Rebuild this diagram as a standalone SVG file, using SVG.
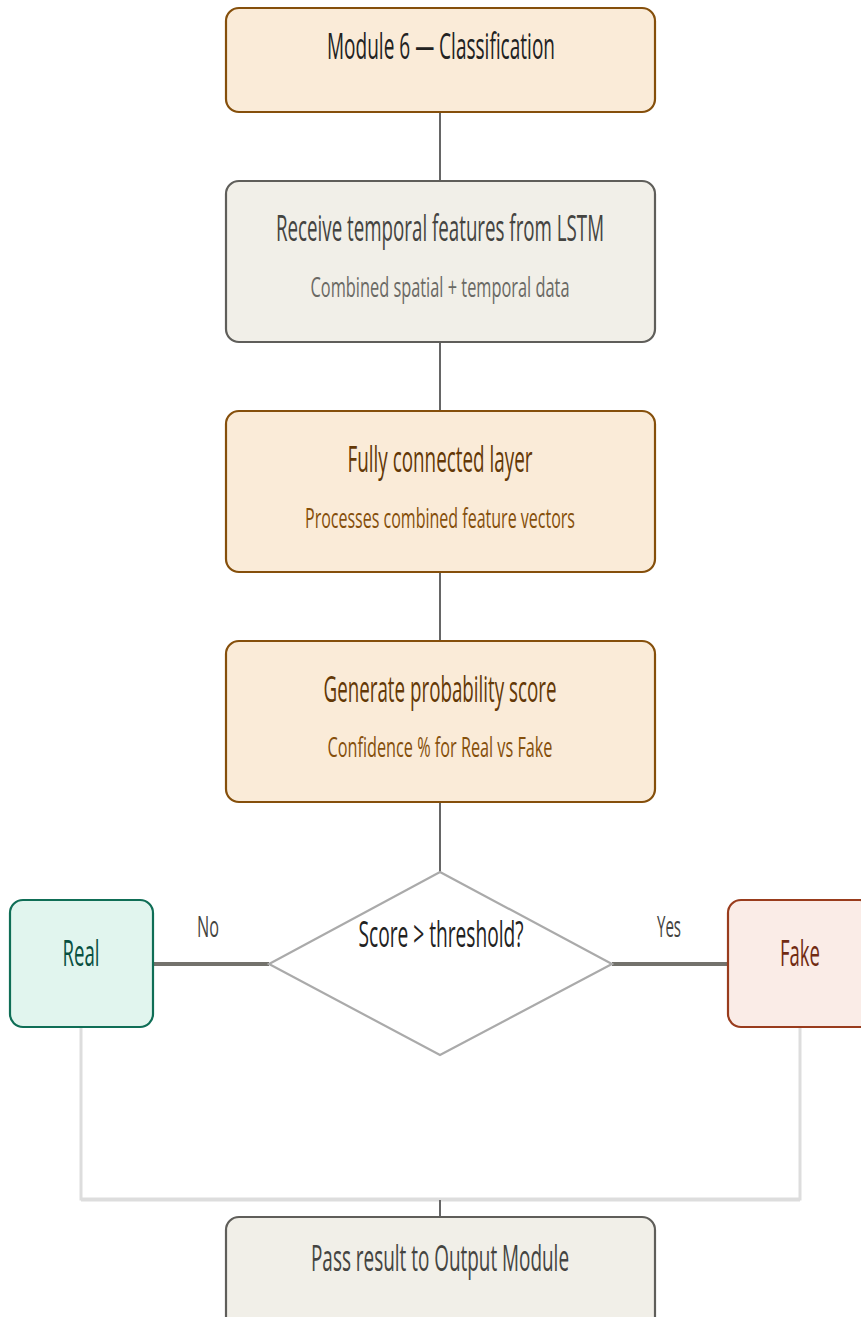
<svg xmlns="http://www.w3.org/2000/svg" width="861" height="1317" viewBox="0 0 861 1317">
  <defs>
    <style>
      text { font-family: "Open Sans", "Liberation Sans", sans-serif; text-anchor: middle; }
      .amber { fill: #faebd8; stroke: #854f0b; stroke-width: 2.2; }
      .gray { fill: #f1efe8; stroke: #5f5e5a; stroke-width: 2.2; }
      .green { fill: #e1f5ee; stroke: #0f6e56; stroke-width: 2.2; }
      .coral { fill: #faece7; stroke: #993c1d; stroke-width: 2.2; }
      .decision { fill: #ffffff; stroke: #aaaaaa; stroke-width: 2.2; }
      .t { font-size: 36px; }
      .s { font-size: 28px; }
      .dark { fill: #222222; }
      .g-t { fill: #444441; }
      .g-s { fill: #6a6964; }
      .a-t { fill: #633806; }
      .a-s { fill: #854f0b; }
      .edge { fill: none; stroke: #666666; stroke-width: 2; }
      .branch { fill: none; stroke: #73726c; stroke-width: 4; }
      .merge { fill: none; stroke: #dddddd; stroke-width: 3; }
      .lbl { font-size: 30px; fill: #444441; }
    </style>
  </defs>

  <!-- connectors -->
  <g id="connectors">
    <line class="edge" x1="440" y1="112" x2="440" y2="181"/>
    <line class="edge" x1="440" y1="342" x2="440" y2="411"/>
    <line class="edge" x1="440" y1="572" x2="440" y2="641"/>
    <line class="edge" x1="440" y1="802" x2="440" y2="872"/>
    <line class="branch" x1="153" y1="964" x2="269" y2="964"/>
    <line class="branch" x1="612" y1="964" x2="728" y2="964"/>
    <polyline class="merge" points="81,1027 81,1199 800,1199 800,1027"/>
    <line class="merge" x1="81" y1="1200" x2="800" y2="1200" stroke-width="2"/>
    <line class="edge" x1="440" y1="1200" x2="440" y2="1217"/>
    <text class="lbl" x="208" y="937" textLength="22" lengthAdjust="spacingAndGlyphs">No</text>
    <text class="lbl" x="669" y="937" textLength="24" lengthAdjust="spacingAndGlyphs">Yes</text>
  </g>

  <g id="module-title">
    <rect class="amber" x="226" y="8" width="429" height="104" rx="13"/>
    <text class="t dark" x="441" y="59" textLength="228" lengthAdjust="spacingAndGlyphs">Module 6 — Classification</text>
  </g>

  <g id="receive-features">
    <rect class="gray" x="226" y="181" width="429" height="161" rx="13"/>
    <text class="t g-t" x="440" y="241" textLength="328" lengthAdjust="spacingAndGlyphs">Receive temporal features from LSTM</text>
    <text class="s g-s" x="440" y="297" textLength="259" lengthAdjust="spacingAndGlyphs">Combined spatial + temporal data</text>
  </g>

  <g id="fully-connected">
    <rect class="amber" x="226" y="411" width="429" height="161" rx="13"/>
    <text class="t a-t" x="440" y="472" textLength="185" lengthAdjust="spacingAndGlyphs">Fully connected layer</text>
    <text class="s a-s" x="440" y="528" textLength="270" lengthAdjust="spacingAndGlyphs">Processes combined feature vectors</text>
  </g>

  <g id="probability-score">
    <rect class="amber" x="226" y="641" width="429" height="161" rx="13"/>
    <text class="t a-t" x="440" y="702" textLength="233" lengthAdjust="spacingAndGlyphs">Generate probability score</text>
    <text class="s a-s" x="440" y="757" textLength="225" lengthAdjust="spacingAndGlyphs">Confidence % for Real vs Fake</text>
  </g>

  <g id="threshold-check">
    <polygon class="decision" points="440,872 612,964 440,1055 269,964"/>
    <text class="t dark" x="441" y="947" textLength="165" lengthAdjust="spacingAndGlyphs">Score &gt; threshold?</text>
  </g>

  <g id="real">
    <rect class="green" x="10" y="900" width="143" height="127" rx="13"/>
    <text class="t" fill="#085041" x="81" y="966" textLength="37" lengthAdjust="spacingAndGlyphs">Real</text>
  </g>

  <g id="fake">
    <rect class="coral" x="728" y="900" width="145" height="127" rx="13"/>
    <text class="t" fill="#712b13" x="800" y="966" textLength="40" lengthAdjust="spacingAndGlyphs">Fake</text>
  </g>

  <g id="output-module">
    <rect class="gray" x="226" y="1217" width="429" height="114" rx="13"/>
    <text class="t g-t" x="440" y="1271" textLength="258" lengthAdjust="spacingAndGlyphs">Pass result to Output Module</text>
  </g>
</svg>
